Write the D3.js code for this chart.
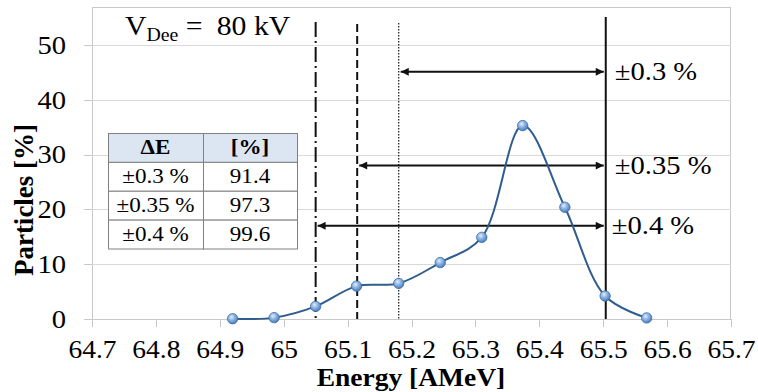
<!DOCTYPE html>
<meta charset="utf-8">
<style>
    body { margin: 0; background: #fff; }
    .axis path { display: none; }
    .axis line { stroke: #c8c8c8; shape-rendering: crispEdges; }
    .grid line { stroke: #d9d9d9; shape-rendering: crispEdges; }
</style>
<body>
<svg id="chart" width="758" height="392"></svg>
<script src="https://cdn.jsdelivr.net/npm/d3@7/dist/d3.min.js"></script>
<script>
// measured points (energy in AMeV, particles in %)
var energy = [64.92, 64.985, 65.05, 65.114, 65.18, 65.245, 65.31, 65.374, 65.44, 65.503, 65.568];
var particles = [0.05, 0.25, 2.3, 6.0, 6.5, 10.3, 14.9, 35.3, 20.4, 4.2, 0.2];

var xTicks = [64.7, 64.8, 64.9, 65, 65.1, 65.2, 65.3, 65.4, 65.5, 65.6, 65.7];
var yTicks = [0, 10, 20, 30, 40, 50];

// energy spread windows
var spreadLabels = ["±0.3 %", "±0.35 %", "±0.4 %"];
var spreadFrom = [65.18, 65.115, 65.05];
var spreadTo = 65.504;
var spreadLevel = [45.1, 28.0, 17.0];

// table
var tableHead = ["ΔE", "[%]"];
var tableShare = [91.4, 97.3, 99.6];

var serif = "'Liberation Serif', 'Times New Roman', Times, serif";
var svg = d3.select("#chart");
var sx = 1.1; // the original text is a bit wide

var x = d3.scaleLinear().domain([64.7, 65.7]).range([92, 731]);
var y = d3.scaleLinear().domain([0, 50]).range([319, 45]);

// frame
svg.append("rect")
    .attr("x", 92.5).attr("y", 7.5)
    .attr("width", 638).attr("height", 312)
    .attr("fill", "none").attr("stroke", "#c8c8c8");

// gridlines
svg.append("g").attr("class", "grid")
    .selectAll("line").data(yTicks.filter(function (d) { return d > 0; }))
    .enter().append("line")
    .attr("x1", 84).attr("x2", 731)
    .attr("y1", function (d) { return Math.round(y(d)) + 0.5; })
    .attr("y2", function (d) { return Math.round(y(d)) + 0.5; });

// x axis
var gx = svg.append("g").attr("class", "axis")
    .attr("transform", "translate(0,319)")
    .call(d3.axisBottom(x).tickValues(xTicks).tickSize(8)
        .tickFormat(function (d) { return d3.format("")(+d.toFixed(1)); }));
gx.append("line").attr("x1", 84).attr("x2", 731).attr("y1", 0.5).attr("y2", 0.5);
gx.selectAll("text")
    .style("font-family", serif)
    .style("font-size", "25px")
    .attr("fill", "#000")
    .attr("y", 39).attr("dy", null)
    .attr("transform", "scale(" + sx + ",1)");

// y axis
var gy = svg.append("g").attr("class", "axis")
    .attr("transform", "translate(92,0)")
    .call(d3.axisLeft(y).tickValues(yTicks).tickSize(8));
gy.selectAll("text")
    .style("font-family", serif)
    .style("font-size", "26px")
    .attr("fill", "#000")
    .attr("x", -26 / sx)
    .attr("transform", "scale(" + sx + ",1)");

// axis titles
svg.append("text")
    .attr("transform", "translate(411,386) scale(" + sx + ",1)")
    .attr("text-anchor", "middle")
    .style("font-family", serif)
    .style("font-size", "25px").style("font-weight", "bold")
    .text("Energy [AMeV]");
svg.append("text")
    .attr("transform", "translate(33,200) rotate(-90)")
    .attr("text-anchor", "middle")
    .style("font-family", serif)
    .style("font-size", "27px").style("font-weight", "bold")
    .text("Particles [%]");

// V_Dee label
var vt = svg.append("text")
    .attr("transform", "translate(125,35) scale(" + sx + ",1)")
    .style("font-family", serif)
    .style("font-size", "27px");
vt.append("tspan").text("V");
vt.append("tspan").attr("dy", 6).style("font-size", "18px").text("Dee");
vt.append("tspan").attr("dy", -6).text(" =");
vt.append("tspan").attr("dx", 13).text("80 kV");

// vertical cut lines
var cutStyles = [
    { at: 65.05, top: 22, dash: "15,4,2,4", w: 2 },
    { at: 65.115, top: 24, dash: "8,4", w: 2 },
    { at: 65.18, top: 23, dash: "1.5,1.5", w: 1.2 },
    { at: spreadTo, top: 17, dash: null, w: 2 }
];
svg.append("g").selectAll("line").data(cutStyles)
    .enter().append("line")
    .attr("x1", function (d) { return x(d.at); })
    .attr("x2", function (d) { return x(d.at); })
    .attr("y1", function (d) { return d.top; })
    .attr("y2", y(0))
    .attr("stroke", "#111")
    .attr("stroke-width", function (d) { return d.w; })
    .attr("stroke-dasharray", function (d) { return d.dash; });

// arrow heads
var defs = svg.append("defs");
defs.append("marker").attr("id", "head")
    .attr("viewBox", "0 0 10 10").attr("refX", 10).attr("refY", 5)
    .attr("markerWidth", 5).attr("markerHeight", 4)
    .attr("markerUnits", "strokeWidth").attr("orient", "auto-start-reverse")
    .append("path").attr("d", "M0,0L10,5L0,10Z").attr("fill", "#111");

var grad = defs.append("radialGradient").attr("id", "ball")
    .attr("cx", "40%").attr("cy", "35%").attr("r", "65%");
grad.append("stop").attr("offset", "0%").attr("stop-color", "#e3eefb");
grad.append("stop").attr("offset", "45%").attr("stop-color", "#8fb5e4");
grad.append("stop").attr("offset", "100%").attr("stop-color", "#4a7ebb");

svg.append("g").selectAll("line").data(spreadLabels)
    .enter().append("line")
    .attr("x1", function (d, i) { return x(spreadFrom[i]) + 2; })
    .attr("x2", x(spreadTo) - 2)
    .attr("y1", function (d, i) { return y(spreadLevel[i]); })
    .attr("y2", function (d, i) { return y(spreadLevel[i]); })
    .attr("stroke", "#111").attr("stroke-width", 2)
    .attr("marker-start", "url(#head)").attr("marker-end", "url(#head)");

var labelShift = [9, 9, 6];
svg.append("g").selectAll("text").data(spreadLabels)
    .enter().append("text")
    .attr("transform", function (d, i) {
        return "translate(" + (x(spreadTo) + labelShift[i]) + "," + (y(spreadLevel[i]) + 8) + ") scale(" + sx + ",1)";
    })
    .style("font-family", serif)
    .style("font-size", "26px")
    .text(function (d) { return d; });

// smoothed data line
var pts = energy.map(function (e, i) { return [e, particles[i]]; });
var line = d3.line()
    .x(function (d) { return x(d[0]); })
    .y(function (d) { return y(d[1]); })
    .curve(d3.curveCatmullRom.alpha(0.5));
svg.append("path").datum(pts)
    .attr("d", line)
    .attr("fill", "none").attr("stroke", "#2f5d8f").attr("stroke-width", 2);

svg.append("g").selectAll("circle").data(pts)
    .enter().append("circle")
    .attr("cx", function (d) { return x(d[0]); })
    .attr("cy", function (d) { return y(d[1]); })
    .attr("r", 5.2)
    .attr("fill", "url(#ball)")
    .attr("stroke", "#3b6ca6").attr("stroke-width", 0.8);

// table of fractions
var colX = d3.scaleOrdinal().domain([0, 1]).range([108, 203]);
var colW = [95, 94];
var rowY = d3.scaleBand().domain(d3.range(4)).range([133, 248.5]);
var tbl = svg.append("g");
var rows = [tableHead].concat(spreadLabels.map(function (s, i) { return [s, tableShare[i].toFixed(1)]; }));
rows.forEach(function (r, ri) {
    r.forEach(function (c, ci) {
        tbl.append("rect")
            .attr("x", colX(ci) + 0.5).attr("y", rowY(ri) + 0.5)
            .attr("width", colW[ci]).attr("height", rowY.bandwidth())
            .attr("fill", ri === 0 ? "#dce6f2" : "#fff")
            .attr("stroke", "#808080").attr("stroke-width", 1);
        tbl.append("text")
            .attr("transform", "translate(" + (colX(ci) + colW[ci] / 2) + "," + (rowY(ri) + rowY.bandwidth() / 2 + 7) + ") scale(" + sx + ",1)")
            .attr("text-anchor", "middle")
            .style("font-family", serif)
            .style("font-size", "21px")
            .style("font-weight", ri === 0 ? "bold" : "normal")
            .text(c);
    });
});
</script>
</body>
